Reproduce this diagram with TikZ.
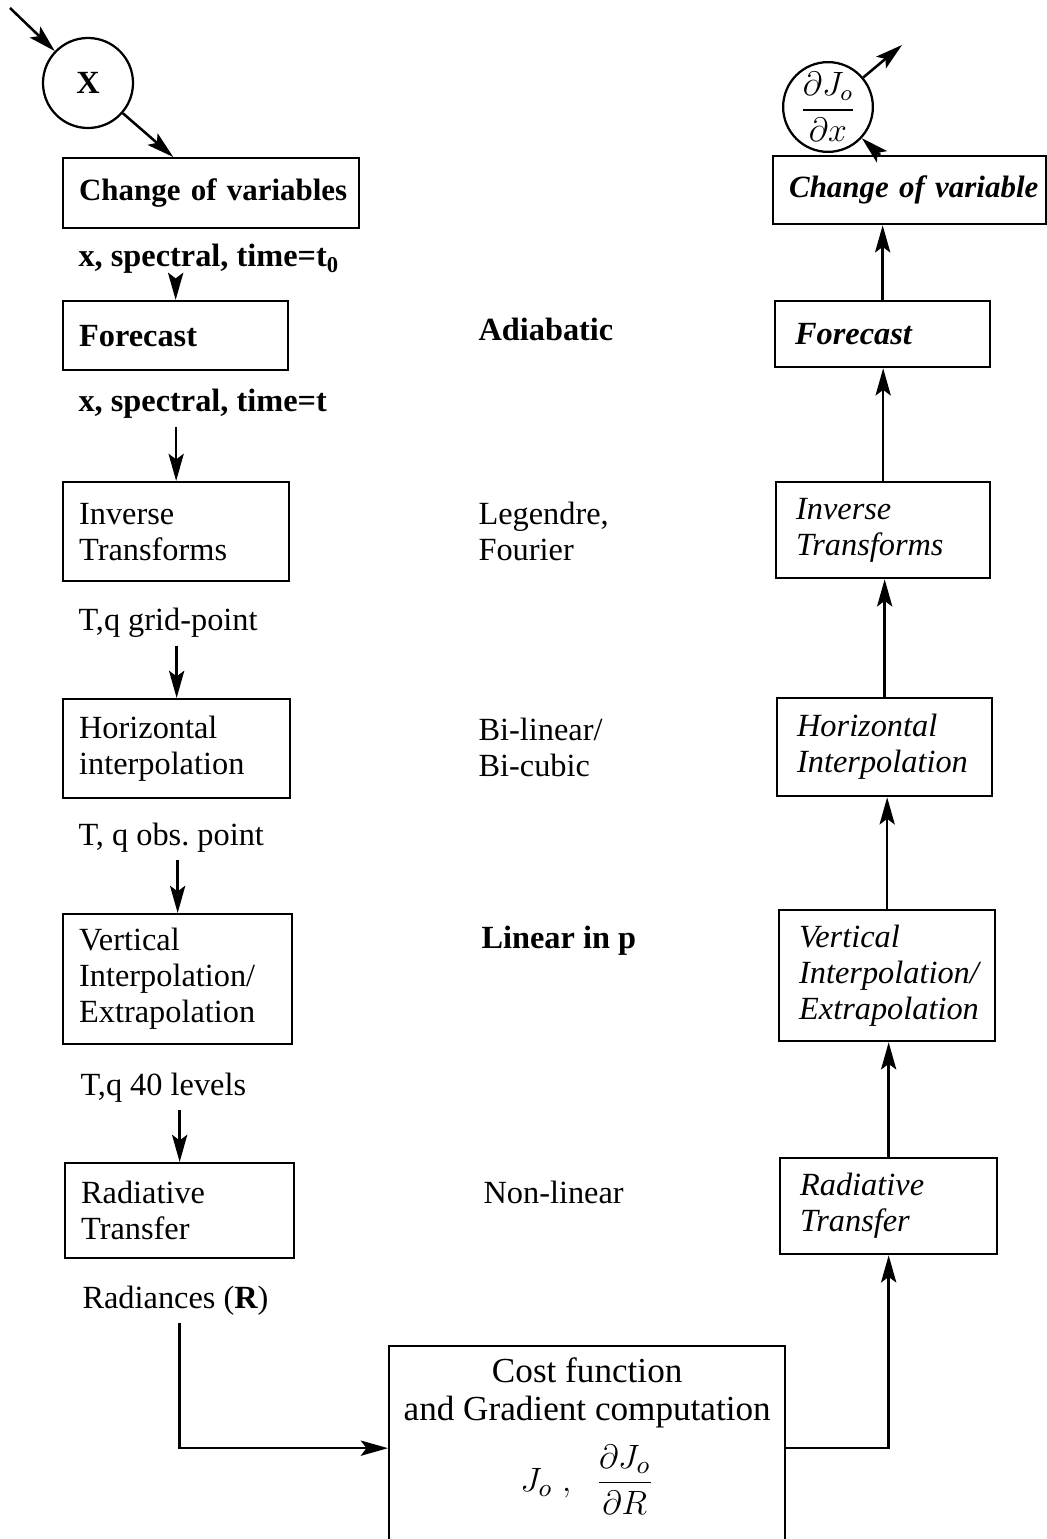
\documentclass[tikz,border=0pt]{standalone}
\usepackage{amsmath}
\usepackage{fontspec}
\setmainfont{Liberation Serif}
\usetikzlibrary{arrows.meta,positioning}
\hyphenpenalty=10000
\exhyphenpenalty=10000
\newcommand{\figfont}{\fontsize{11.5}{12.8}\selectfont}
\newcommand{\figfontsm}{\fontsize{11}{12.8}\selectfont}
\tikzset{
  stagebox/.style={
    rectangle, draw=black, line width=0.8pt, anchor=north west,
    align=left, inner xsep=0.2cm, inner ysep=0pt, font=\figfont
  },
  adjbox/.style={stagebox, inner xsep=0.25cm, font=\figfont\itshape},
  flowarrow/.style={-{Stealth[length=3.4mm, width=1.9mm, inset=0.7mm]}, line width=0.9pt},
  varlabel/.style={anchor=base west, inner xsep=0pt, inner ysep=0.1cm, font=\figfont},
  methodlabel/.style={anchor=west, inner sep=0pt, align=left, font=\figfont},
  statecircle/.style={circle, draw=black, line width=0.8pt, inner sep=0pt, font=\figfont}
}

\begin{document}
\begin{tikzpicture}[x=0.0125cm, y=-0.0125cm]
  \useasboundingbox (0,0) rectangle (1046,1539);

  % forward chain
  \coordinate (xsrc) at (10,8);
  \node[statecircle, minimum size=1.125cm] (xin) at (88,83) {\bfseries X};
  \node[stagebox, text width=3.3cm, minimum height=0.875cm, font=\figfontsm\bfseries] (cv) at (62,157) {Change~of~variables};
  \coordinate (cvin) at ([xshift=1.39cm]cv.north west);
  \node[varlabel, font=\figfont\bfseries] (sp0) at (78,267) {x, spectral, time=t\textsubscript{0}};
  \node[stagebox, text width=2.4125cm, minimum height=0.8625cm, font=\figfont\bfseries] (fc) at (62,300) {Forecast};
  \node[varlabel, font=\figfont\bfseries] (spt) at (78,412) {x, spectral, time=t};
  \node[stagebox, text width=2.425cm, minimum height=1.2375cm] (it) at (62,481) {Inverse\\Transforms};
  \node[varlabel] (grid) at (78,630) {T,q grid-point};
  \node[stagebox, text width=2.4375cm, minimum height=1.2375cm] (hi) at (62,698) {Horizontal\\interpolation};
  \node[varlabel] (obs) at (78,845) {T, q obs.\ point};
  \node[stagebox, text width=2.4625cm, minimum height=1.625cm] (vi) at (62,913) {Vertical\\Interpolation/\\Extrapolation};
  \node[varlabel] (lev) at (80,1095) {T,q 40 levels};
  \node[stagebox, text width=2.4625cm, minimum height=1.1875cm] (rt) at (64,1162) {Radiative\\Transfer};
  \node[varlabel] (rad) at (82,1308) {Radiances ({\bfseries R})};

  % methods
  \node[methodlabel, anchor=base west, font=\figfont\bfseries] (adia) at (478,341) {Adiabatic};
  \node[methodlabel] (lf) at (478,531) {Legendre,\\Fourier};
  \node[methodlabel] (bl) at (478,747) {Bi-linear/\\Bi-cubic};
  \node[methodlabel, anchor=base west, font=\figfont\bfseries] (lin) at (481,948) {Linear in p};
  \node[methodlabel, anchor=base west] (nl) at (483,1203) {Non-linear};

  % cost function
  \node[stagebox, minimum width=4.95cm, minimum height=2.55cm] (cost) at (388,1345) {};
  \node[anchor=north, align=center, inner sep=0pt, font=\fontsize{12.5}{13.6}\selectfont] (costtxt) at ([yshift=-0.15cm]cost.north)
    {Cost function\\and Gradient computation\\[5pt]$J_o\;,\;\;\dfrac{\partial J_o}{\partial R}$};

  % adjoint chain
  \node[adjbox, text width=2.2125cm, minimum height=1.2cm] (rrt) at (779,1157) {Radiative\\Transfer};
  \node[adjbox, text width=2.2cm, minimum height=1.6375cm] (rvi) at (778,909) {Vertical\\Interpolation/\\Extrapolation};
  \node[adjbox, text width=2.1875cm, minimum height=1.225cm] (rhi) at (776,697) {Horizontal\\Interpolation};
  \node[adjbox, text width=2.175cm, minimum height=1.2cm] (rit) at (775,481) {Inverse\\Transforms};
  \node[adjbox, text width=2.1875cm, minimum height=0.825cm, font=\figfont\bfseries\itshape] (rfc) at (774,300) {Forecast};
  \node[adjbox, inner xsep=0.2cm, text width=3.0125cm, minimum height=0.85cm, font=\figfontsm\bfseries\itshape] (rcv) at (772,155) {Change~of~variable};
  \coordinate (rcvout) at ([xshift=1.35cm]rcv.north west);
  \node[statecircle, minimum size=1.075cm] (gout) at (828,107) {$\dfrac{\partial J_o}{\partial x}$};
  \coordinate (gsink) at (902,45);

  \draw[flowarrow] (xsrc) -- (xin);
  \draw[flowarrow] (xin) -- (cvin);
  \draw[flowarrow] (sp0.south -| fc.north) -- (fc.north);
  \draw[flowarrow] (spt.south -| it.north) -- (it.north);
  \draw[flowarrow] (grid.south -| hi.north) -- (hi.north);
  \draw[flowarrow] (obs.south -| vi.north) -- (vi.north);
  \draw[flowarrow] (lev.south -| rt.north) -- (rt.north);
  \draw[flowarrow] (rad.south -| rt.south) |- (cost.west);
  \draw[flowarrow] (cost.east) -| (rrt.south);
  \draw[flowarrow] (rrt.north) -- (rrt.north |- rvi.south);
  \draw[flowarrow] (rvi.north) -- (rvi.north |- rhi.south);
  \draw[flowarrow] (rhi.north) -- (rhi.north |- rit.south);
  \draw[flowarrow] (rit.north) -- (rit.north |- rfc.south);
  \draw[flowarrow] (rfc.north) -- (rfc.north |- rcv.south);
  \draw[flowarrow] (rcvout) -- (gout);
  \draw[flowarrow] (gout) -- (gsink);
\end{tikzpicture}
\end{document}
